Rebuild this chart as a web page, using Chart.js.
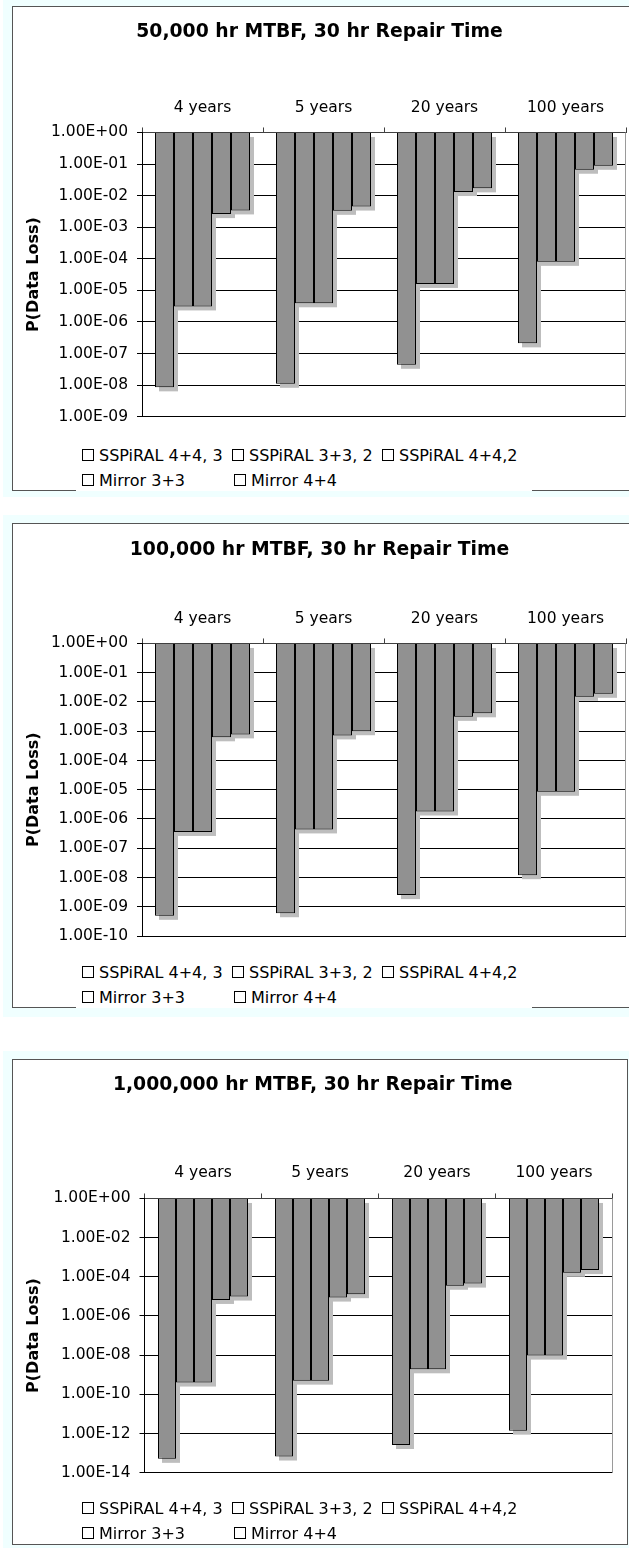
<!DOCTYPE html>
<html>
<head>
<meta charset="utf-8">
<script src="https://cdn.jsdelivr.net/npm/chart.js@4.4.1/dist/chart.umd.min.js"></script>
<style>
  body { margin: 0; background: #fff; width: 629px; height: 1548px; position: relative; overflow: hidden; font-family: "DejaVu Sans", Verdana, sans-serif; }
  .panel { position: absolute; left: 3px; width: 626px; background: #f0ffff; }
  .box { position: absolute; left: 12px; background: #fff; border: 1px solid #555; box-sizing: border-box; }
  canvas { position: absolute; left: 13px; }
  .legend { position: absolute; left: 76px; width: 456px; background: #fff; font-size: 16px; color: #000; }
  .row { display: flex; height: 25px; line-height: 25px; padding-left: 6px; }
  .item { width: 152px; white-space: nowrap; display: flex; align-items: center; }
  .swatch { width: 12px; height: 12px; border: 1px solid #000; box-sizing: border-box; margin-right: 5px; background: #fff; }
</style>
</head>
<body>
<script>
const categories = ["4 years", "5 years", "20 years", "100 years"];
const seriesNames = ["SSPiRAL 4+4, 3", "SSPiRAL 3+3, 2", "SSPiRAL 4+4,2", "Mirror 3+3", "Mirror 4+4"];
const titles = [
  "50,000 hr MTBF, 30 hr Repair Time",
  "100,000 hr MTBF, 30 hr Repair Time",
  "1,000,000 hr MTBF, 30 hr Repair Time"
];

// 50,000 hr MTBF
const a_sspiral443 = [8.5e-9, 1.1e-8, 4.4e-8, 2.1e-7];
const a_sspiral332 = [3.1e-6, 3.9e-6, 1.6e-5, 8.0e-5];
const a_sspiral442 = [3.1e-6, 3.9e-6, 1.6e-5, 8.0e-5];
const a_mirror33 = [2.6e-3, 3.3e-3, 1.3e-2, 6.6e-2];
const a_mirror44 = [3.4e-3, 4.5e-3, 1.7e-2, 8.8e-2];

// 100,000 hr MTBF
const b_sspiral443 = [4.9e-10, 6.0e-10, 2.5e-9, 1.2e-8];
const b_sspiral332 = [3.6e-7, 4.4e-7, 1.8e-6, 8.5e-6];
const b_sspiral442 = [3.6e-7, 4.4e-7, 1.8e-6, 8.5e-6];
const b_mirror33 = [6.2e-4, 7.2e-4, 3.1e-3, 1.5e-2];
const b_mirror44 = [7.8e-4, 1.0e-3, 4.1e-3, 1.9e-2];

// 1,000,000 hr MTBF
const c_sspiral443 = [5.1e-14, 6.7e-14, 2.6e-13, 1.4e-12];
const c_sspiral332 = [4.0e-10, 5.0e-10, 1.9e-9, 9.5e-9];
const c_sspiral442 = [4.0e-10, 5.0e-10, 1.9e-9, 9.5e-9];
const c_mirror33 = [6.6e-6, 8.7e-6, 3.5e-5, 1.6e-4];
const c_mirror44 = [9.8e-6, 1.3e-5, 4.5e-5, 2.2e-4];

const ticksA = ["1.00E+00", "1.00E-01", "1.00E-02", "1.00E-03", "1.00E-04", "1.00E-05", "1.00E-06", "1.00E-07", "1.00E-08", "1.00E-09"];
const ticksB = ["1.00E+00", "1.00E-01", "1.00E-02", "1.00E-03", "1.00E-04", "1.00E-05", "1.00E-06", "1.00E-07", "1.00E-08", "1.00E-09", "1.00E-10"];
const ticksC = ["1.00E+00", "1.00E-02", "1.00E-04", "1.00E-06", "1.00E-08", "1.00E-10", "1.00E-12", "1.00E-14"];

// page geometry of each panel; plot width = 4 categories of catW so bar edges land on whole pixels
const layouts = [
  { panelTop: 0, panelH: 497, boxTop: 6, boxH: 485, boxW: 622, canvasTop: 7, W: 616, H: 483,
    plotLeft: 129, catW: 121, barW: 19, plotTop: 125.5, plotBottom: 409.7, titleY: 24.7, labelPad: 10, legendTop: 442.5, legendH: 48 },
  { panelTop: 515, panelH: 502, boxTop: 523, boxH: 485, boxW: 622, canvasTop: 524, W: 616, H: 483,
    plotLeft: 129, catW: 121, barW: 19, plotTop: 119.5, plotBottom: 412, titleY: 26, labelPad: 9.7, legendTop: 959.5, legendH: 48.5 },
  { panelTop: 1051, panelH: 497, boxTop: 1059, boxH: 486, boxW: 616, canvasTop: 1060, W: 616, H: 484,
    plotLeft: 131.5, catW: 117, barW: 18, plotTop: 138.5, plotBottom: 412.7, titleY: 25, labelPad: 10.9, legendTop: 1495.8, legendH: 46 }
];

Chart.defaults.font.family = '"DejaVu Sans", Verdana, sans-serif';
Chart.defaults.color = "#000";

// light grey drop shadow behind every bar, plus the grey right edge of the plot
const barShadow = {
  id: "barShadow",
  beforeDatasetsDraw(chart) {
    const ctx = chart.ctx;
    const area = chart.chartArea;
    ctx.save();
    ctx.strokeStyle = "#9a9a9a";
    ctx.lineWidth = 1;
    ctx.beginPath();
    ctx.moveTo(Math.round(area.right) - 0.5, area.top);
    ctx.lineTo(Math.round(area.right) - 0.5, area.bottom);
    ctx.stroke();
    ctx.fillStyle = "#bdbdbd";
    chart.getSortedVisibleDatasetMetas().forEach(meta => {
      meta.data.forEach(bar => {
        const p = bar.getProps(["x", "y", "base", "width"], true);
        const top = Math.min(p.y, p.base);
        ctx.fillRect(p.x - p.width / 2 + 4, top + 4, p.width, Math.abs(p.base - p.y));
      });
    });
    ctx.restore();
  }
};

function addDiv(cls, css) {
  const d = document.createElement("div");
  d.className = cls;
  Object.assign(d.style, css);
  document.body.appendChild(d);
  return d;
}

function buildChart(title, series, tickLabels, L) {
  addDiv("panel", { top: L.panelTop + "px", height: L.panelH + "px" });
  addDiv("box", { top: L.boxTop + "px", height: L.boxH + "px", width: L.boxW + "px" });

  const canvas = document.createElement("canvas");
  canvas.width = L.W;
  canvas.height = L.H;
  canvas.style.top = L.canvasTop + "px";
  canvas.style.width = L.W + "px";
  canvas.style.height = L.H + "px";
  document.body.appendChild(canvas);

  const tickValues = tickLabels.map(Number).sort((a, b) => a - b);
  const plotRight = L.plotLeft + 4 * L.catW;
  const catPct = (L.barW * series.length) / L.catW;

  new Chart(canvas, {
    type: "bar",
    data: {
      labels: categories,
      datasets: series.map((d, k) => ({
        label: seriesNames[k],
        data: d,
        base: 1,
        backgroundColor: "#919191",
        borderColor: "#000",
        borderWidth: 1,
        inflateAmount: 0,
        categoryPercentage: catPct,
        barPercentage: 1
      }))
    },
    options: {
      responsive: false,
      animation: false,
      events: [],
      layout: { padding: { left: 0, top: 0, right: L.W - plotRight, bottom: L.H - L.plotBottom } },
      plugins: {
        legend: { display: false },
        tooltip: { enabled: false },
        title: {
          display: true,
          text: title,
          color: "#000",
          font: { size: 18.8, weight: "bold" },
          padding: { top: L.titleY - 11.3, bottom: L.plotTop - 40 - L.titleY - 11.3 }
        }
      },
      scales: {
        x: {
          position: "top",
          grid: { drawOnChartArea: false, tickLength: 5, color: "#404040" },
          border: { color: "#404040" },
          ticks: { color: "#000", font: { size: 15.5 }, padding: L.labelPad, maxRotation: 0, autoSkip: false },
          afterFit(s) { s.height = 40; }
        },
        y: {
          type: "logarithmic",
          min: tickValues[0],
          max: 1,
          grid: { color: "#000", tickLength: 5 },
          border: { color: "#000" },
          ticks: {
            color: "#000",
            font: { size: 15.5 },
            padding: 9,
            autoSkip: false,
            callback: v => tickLabels.find(t => Math.abs(Math.log10(Number(t)) - Math.log10(v)) < 1e-6) || ""
          },
          afterBuildTicks(s) { s.ticks = tickValues.map(v => ({ value: v })); },
          afterFit(s) { s.width = L.plotLeft; },
          title: { display: true, text: "P(Data Loss)", color: "#000", font: { size: 16, weight: "bold" }, padding: { top: 11, bottom: 0 } }
        }
      }
    },
    plugins: [barShadow]
  });

  // legend laid out in Excel's column grid
  const legend = addDiv("legend", { top: L.legendTop + "px", height: L.legendH + "px" });
  [[0, 1, 2], [3, 4]].forEach(rowIdx => {
    const row = document.createElement("div");
    row.className = "row";
    rowIdx.forEach(k => {
      const item = document.createElement("div");
      item.className = "item";
      const sw = document.createElement("span");
      sw.className = "swatch";
      item.appendChild(sw);
      item.appendChild(document.createTextNode(seriesNames[k]));
      row.appendChild(item);
    });
    legend.appendChild(row);
  });
}

buildChart(titles[0], [a_sspiral443, a_sspiral332, a_sspiral442, a_mirror33, a_mirror44], ticksA, layouts[0]);
buildChart(titles[1], [b_sspiral443, b_sspiral332, b_sspiral442, b_mirror33, b_mirror44], ticksB, layouts[1]);
buildChart(titles[2], [c_sspiral443, c_sspiral332, c_sspiral442, c_mirror33, c_mirror44], ticksC, layouts[2]);
</script>
</body>
</html>
